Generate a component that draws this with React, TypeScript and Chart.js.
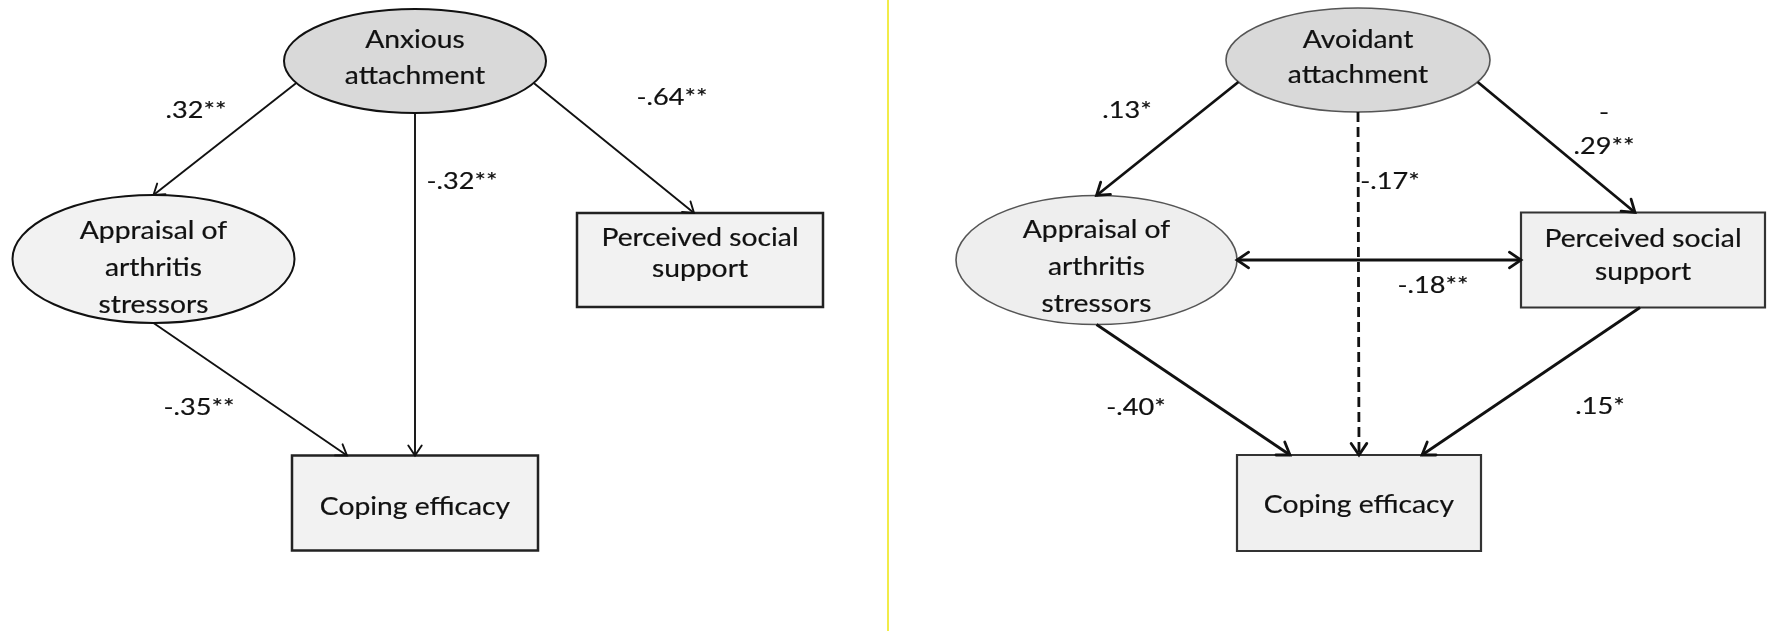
import React, { useEffect, useRef } from "react";
import { Chart, registerables } from "chart.js";

Chart.register(...registerables);

// ---------- DATA ----------
// Nodes (variables of the two path models)
const nodeLabels: string[] = [
  "Anxious\nattachment",
  "Appraisal of\narthritis\nstressors",
  "Perceived social\nsupport",
  "Coping efficacy",
  "Avoidant\nattachment",
  "Appraisal of\narthritis\nstressors",
  "Perceived social\nsupport",
  "Coping efficacy",
];
const nodeKind: string[] = ["ellipse", "ellipse", "box", "box", "ellipse", "ellipse", "box", "box"];
// node centres in diagram units
const nodeX: number[] = [415, 153.5, 700, 415, 1358, 1096.5, 1643, 1359];
const nodeY: number[] = [61, 259, 260, 503, 60, 260, 260, 503];

// Paths (from -> to) with standardized coefficients
const edgeFrom: number[] = [0, 0, 0, 1, 4, 4, 4, 5, 5, 6];
const edgeTo: number[] = [1, 3, 2, 3, 5, 7, 6, 6, 7, 7];
const edgeCoef: string[] = [".32**", "-.32**", "-.64**", "-.35**", ".13*", "-.17*", "-\n.29**", "-.18**", "-.40*", ".15*"];
const coefX: number[] = [196, 462, 672, 199, 1127, 1390, 1604, 1433, 1136, 1600];
const coefY: number[] = [118, 189, 105, 415, 118, 189, 154, 293, 415, 414];

// ---------- LAYOUT / STYLE ----------
const nodeW = [262, 282, 246, 246, 264, 281, 244, 244];
const nodeH = [104, 128, 94, 95, 104, 129, 95, 96];
const nodeFill = ["#d9d9d9", "#f2f2f2", "#f2f2f2", "#f2f2f2", "#d9d9d9", "#eeeeee", "#f0f0f0", "#f0f0f0"];
const nodeStroke = ["#111", "#111", "#222", "#222", "#555", "#555", "#333", "#333"];
const nodeStrokeW = [2, 2, 2.5, 2.5, 1.6, 1.6, 2.2, 2.2];
const nodeLineH = [36, 37, 31, 0, 35, 37, 33, 0];
const nodeTextOff = [4.5, 17, 1.5, 12, 5.5, 15, 3, 10];
type Anchor = { a?: number; s?: string; o?: number };
const fromAnchor: Anchor[] = [
  { a: 155 }, { a: 90 }, { a: 25 }, { a: 90 },
  { a: 155 }, { a: 90 }, { a: 25 }, { a: 0 }, { a: 90 }, { s: "bottom", o: -3 },
];
const toAnchor: Anchor[] = [
  { a: -90 }, { s: "top", o: 0 }, { s: "top", o: -6 }, { s: "top", o: -68 },
  { a: -90 }, { s: "top", o: 0 }, { s: "top", o: -8 }, { s: "left", o: 0 }, { s: "top", o: -69 }, { s: "top", o: 63 },
];
const edgeDashed = [false, false, false, false, false, true, false, false, false, false];
const edgeDouble = [false, false, false, false, false, false, false, true, false, false];
const dividerX = 888;

const FONT = "Lato, 'Open Sans', sans-serif";
const TEXT_SCALE_X = 1.13;

function anchorPoint(i: number, an: Anchor): [number, number] {
  const cx = nodeX[i], cy = nodeY[i], w = nodeW[i], h = nodeH[i];
  if (nodeKind[i] === "ellipse") {
    const t = ((an.a ?? 0) * Math.PI) / 180;
    return [cx + (w / 2) * Math.cos(t), cy + (h / 2) * Math.sin(t)];
  }
  const o = an.o ?? 0;
  switch (an.s) {
    case "top": return [cx + o, cy - h / 2];
    case "bottom": return [cx + o, cy + h / 2];
    case "left": return [cx - w / 2, cy + o];
    default: return [cx + w / 2, cy + o];
  }
}

function drawScaledText(ctx: CanvasRenderingContext2D, text: string, x: number, y: number) {
  ctx.save();
  ctx.translate(x, y);
  ctx.scale(TEXT_SCALE_X, 1);
  ctx.fillText(text, 0, 0);
  ctx.lineWidth = 0.2;
  ctx.strokeText(text, 0, 0);
  ctx.restore();
}

function arrowHead(ctx: CanvasRenderingContext2D, x1: number, y1: number, x2: number, y2: number, len: number) {
  const ang = Math.atan2(y2 - y1, x2 - x1);
  const spread = (34 * Math.PI) / 180;
  ctx.setLineDash([]);
  ctx.beginPath();
  ctx.moveTo(x2 - len * Math.cos(ang - spread), y2 - len * Math.sin(ang - spread));
  ctx.lineTo(x2, y2);
  ctx.lineTo(x2 - len * Math.cos(ang + spread), y2 - len * Math.sin(ang + spread));
  ctx.stroke();
}

const diagramPlugin = {
  id: "pathDiagram",
  afterDatasetsDraw(chart: any) {
    const ctx: CanvasRenderingContext2D = chart.ctx;
    const xs = chart.scales.x, ys = chart.scales.y;
    const px = (v: number) => xs.getPixelForValue(v);
    const py = (v: number) => ys.getPixelForValue(v);
    const dx = (d: number) => Math.abs(xs.getPixelForValue(d) - xs.getPixelForValue(0));
    const dy = (d: number) => Math.abs(ys.getPixelForValue(d) - ys.getPixelForValue(0));

    ctx.save();
    // divider
    ctx.strokeStyle = "#f2ec4a";
    ctx.lineWidth = 2;
    ctx.beginPath();
    ctx.moveTo(px(dividerX), py(0));
    ctx.lineTo(px(dividerX), py(631));
    ctx.stroke();

    // nodes
    nodeLabels.forEach((label, i) => {
      const cx = px(nodeX[i]), cy = py(nodeY[i]);
      const w = dx(nodeW[i]), h = dy(nodeH[i]);
      ctx.beginPath();
      if (nodeKind[i] === "ellipse") ctx.ellipse(cx, cy, w / 2, h / 2, 0, 0, Math.PI * 2);
      else ctx.rect(cx - w / 2, cy - h / 2, w, h);
      ctx.fillStyle = nodeFill[i];
      ctx.fill();
      ctx.lineWidth = nodeStrokeW[i];
      ctx.strokeStyle = nodeStroke[i];
      ctx.stroke();

      const lines = label.split("\n");
      ctx.fillStyle = "#111";
      ctx.strokeStyle = "#111";
      ctx.font = `25px ${FONT}`;
      ctx.textAlign = "center";
      ctx.textBaseline = "alphabetic";
      lines.forEach((ln, k) => {
        const y = nodeY[i] + (k - (lines.length - 1) / 2) * nodeLineH[i] + nodeTextOff[i];
        drawScaledText(ctx, ln, cx, py(y));
      });
    });

    // edges
    edgeFrom.forEach((f, e) => {
      const t = edgeTo[e];
      const [ax, ay] = anchorPoint(f, fromAnchor[e]);
      const [bx, by] = anchorPoint(t, toAnchor[e]);
      const x1 = px(ax), y1 = py(ay), x2 = px(bx), y2 = py(by);
      const right = f >= 4;
      ctx.strokeStyle = "#111";
      ctx.lineWidth = right ? 2.8 : 1.9;
      ctx.lineCap = "butt";
      ctx.setLineDash(edgeDashed[e] ? [10, 5] : []);
      ctx.beginPath();
      ctx.moveTo(x1, y1);
      ctx.lineTo(x2, y2);
      ctx.stroke();
      ctx.lineCap = "round";
      const len = right ? 14 : 12;
      arrowHead(ctx, x1, y1, x2, y2, len);
      if (edgeDouble[e]) arrowHead(ctx, x2, y2, x1, y1, len);
      ctx.lineCap = "butt";
    });

    // coefficients
    ctx.fillStyle = "#111";
    ctx.strokeStyle = "#111";
    ctx.font = `24px ${FONT}`;
    ctx.textAlign = "center";
    ctx.textBaseline = "alphabetic";
    edgeCoef.forEach((c, e) => {
      const lines = c.split("\n");
      lines.forEach((ln, k) => {
        const y = coefY[e] - (lines.length - 1 - k) * 34;
        drawScaledText(ctx, ln, px(coefX[e]), py(y));
      });
    });
    ctx.restore();
  },
};

export default function App() {
  const ref = useRef<HTMLCanvasElement | null>(null);
  useEffect(() => {
    if (!ref.current) return;
    const chart = new Chart(ref.current, {
      type: "scatter",
      data: {
        datasets: [
          {
            label: "variables",
            data: nodeX.map((x, i) => ({ x, y: nodeY[i] })),
            pointRadius: 0,
            pointHoverRadius: 0,
          },
        ],
      },
      options: {
        animation: false,
        responsive: true,
        maintainAspectRatio: false,
        layout: { padding: 0 },
        plugins: { legend: { display: false }, tooltip: { enabled: false } },
        events: [],
        scales: {
          x: { type: "linear", min: 0, max: 1772, display: false },
          y: { type: "linear", min: 0, max: 631, reverse: true, display: false },
        },
      },
      plugins: [diagramPlugin],
    });
    return () => chart.destroy();
  }, []);
  return (
    <div style={{ position: "absolute", left: 0, top: 0, width: 1772, height: 631, background: "#fff" }}>
      <canvas ref={ref} />
    </div>
  );
}
